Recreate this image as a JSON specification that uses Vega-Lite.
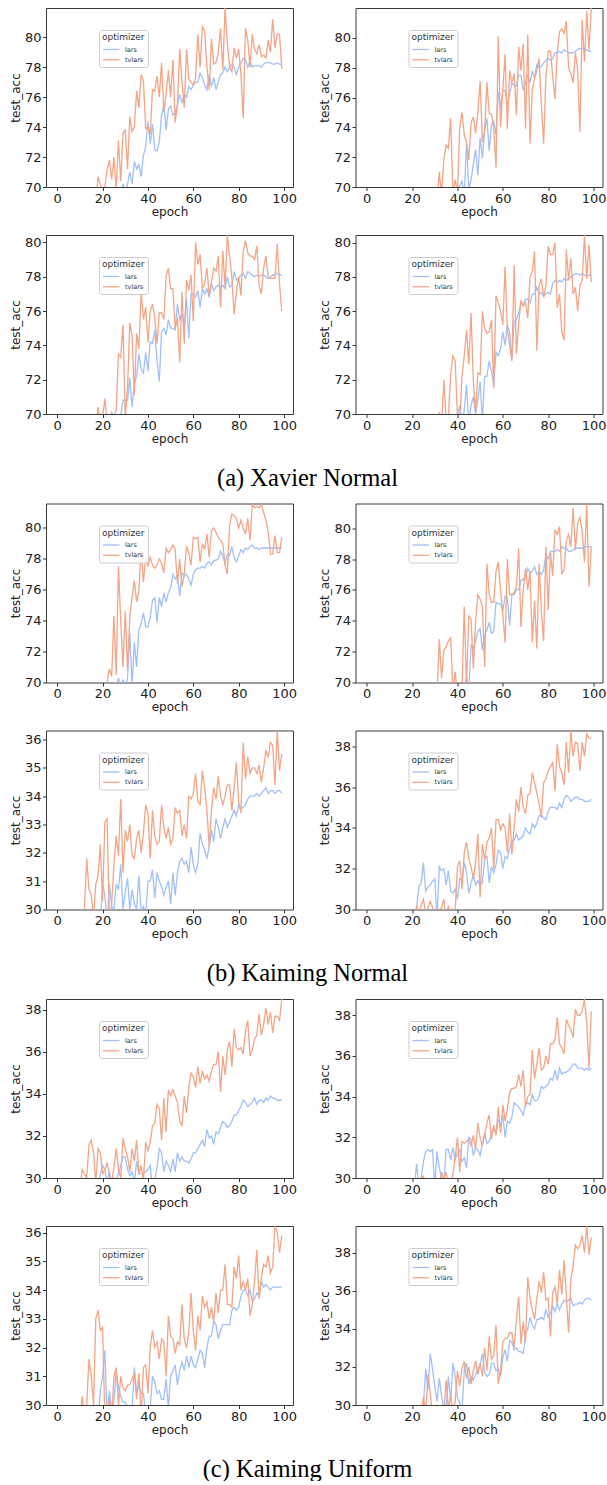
{
"$schema":"https://vega.github.io/schema/vega-lite/v6.json",
"background":"white",
"padding":{"left":8,"top":7,"right":2,"bottom":0},
"datasets":{
"p1":[{"e":17,"lars":null,"tvlars":69.0},{"e":18,"lars":null,"tvlars":70.7},{"e":19,"lars":null,"tvlars":70.2},{"e":20,"lars":null,"tvlars":69.5},{"e":21,"lars":null,"tvlars":70.0},{"e":22,"lars":null,"tvlars":71.2},{"e":23,"lars":null,"tvlars":71.8},{"e":24,"lars":null,"tvlars":70.5},{"e":25,"lars":null,"tvlars":72.0},{"e":26,"lars":null,"tvlars":69.8},{"e":27,"lars":null,"tvlars":73.1},{"e":28,"lars":69.0,"tvlars":70.4},{"e":29,"lars":70.2,"tvlars":73.6},{"e":30,"lars":69.5,"tvlars":73.8},{"e":31,"lars":70.2,"tvlars":71.2},{"e":32,"lars":71.0,"tvlars":74.7},{"e":33,"lars":70.2,"tvlars":73.7},{"e":34,"lars":71.7,"tvlars":74.0},{"e":35,"lars":71.2,"tvlars":76.4},{"e":36,"lars":71.5,"tvlars":75.3},{"e":37,"lars":70.7,"tvlars":77.5},{"e":38,"lars":72.1,"tvlars":77.1},{"e":39,"lars":72.7,"tvlars":73.9},{"e":40,"lars":74.4,"tvlars":74.0},{"e":41,"lars":72.9,"tvlars":73.5},{"e":42,"lars":74.2,"tvlars":76.5},{"e":43,"lars":72.5,"tvlars":76.4},{"e":44,"lars":72.4,"tvlars":77.4},{"e":45,"lars":73.0,"tvlars":76.0},{"e":46,"lars":74.8,"tvlars":78.3},{"e":47,"lars":75.5,"tvlars":75.0},{"e":48,"lars":73.8,"tvlars":76.2},{"e":49,"lars":75.2,"tvlars":77.8},{"e":50,"lars":75.4,"tvlars":76.0},{"e":51,"lars":74.8,"tvlars":78.5},{"e":52,"lars":75.0,"tvlars":74.3},{"e":53,"lars":75.5,"tvlars":75.5},{"e":54,"lars":76.2,"tvlars":79.2},{"e":55,"lars":75.6,"tvlars":77.0},{"e":56,"lars":76.2,"tvlars":75.3},{"e":57,"lars":76.0,"tvlars":79.2},{"e":58,"lars":76.7,"tvlars":77.2},{"e":59,"lars":76.5,"tvlars":77.0},{"e":60,"lars":76.8,"tvlars":76.8},{"e":61,"lars":77.0,"tvlars":77.3},{"e":62,"lars":77.0,"tvlars":80.2},{"e":63,"lars":77.6,"tvlars":78.0},{"e":64,"lars":77.3,"tvlars":80.7},{"e":65,"lars":76.8,"tvlars":80.4},{"e":66,"lars":76.5,"tvlars":78.0},{"e":67,"lars":77.5,"tvlars":76.5},{"e":68,"lars":76.7,"tvlars":79.9},{"e":69,"lars":77.3,"tvlars":78.2},{"e":70,"lars":76.5,"tvlars":78.3},{"e":71,"lars":77.0,"tvlars":79.0},{"e":72,"lars":77.5,"tvlars":80.6},{"e":73,"lars":77.6,"tvlars":77.8},{"e":74,"lars":78.0,"tvlars":81.95},{"e":75,"lars":77.7,"tvlars":79.6},{"e":76,"lars":78.0,"tvlars":78.0},{"e":77,"lars":78.2,"tvlars":77.7},{"e":78,"lars":78.0,"tvlars":79.3},{"e":79,"lars":77.5,"tvlars":78.6},{"e":80,"lars":78.0,"tvlars":79.2},{"e":81,"lars":78.3,"tvlars":77.5},{"e":82,"lars":78.6,"tvlars":74.6},{"e":83,"lars":78.5,"tvlars":80.6},{"e":84,"lars":78.0,"tvlars":79.8},{"e":85,"lars":78.4,"tvlars":78.0},{"e":86,"lars":78.0,"tvlars":80.2},{"e":87,"lars":78.1,"tvlars":79.2},{"e":88,"lars":78.1,"tvlars":78.9},{"e":89,"lars":78.1,"tvlars":79.5},{"e":90,"lars":78.0,"tvlars":78.7},{"e":91,"lars":78.2,"tvlars":78.8},{"e":92,"lars":78.3,"tvlars":78.6},{"e":93,"lars":78.3,"tvlars":79.8},{"e":94,"lars":78.3,"tvlars":79.0},{"e":95,"lars":78.2,"tvlars":81.2},{"e":96,"lars":78.2,"tvlars":79.3},{"e":97,"lars":78.3,"tvlars":80.2},{"e":98,"lars":78.2,"tvlars":80.2},{"e":99,"lars":78.2,"tvlars":77.9}],
"p2":[{"e":31,"lars":null,"tvlars":69.0},{"e":32,"lars":null,"tvlars":71.0},{"e":33,"lars":null,"tvlars":69.5},{"e":34,"lars":null,"tvlars":71.8},{"e":35,"lars":null,"tvlars":72.8},{"e":36,"lars":null,"tvlars":72.6},{"e":37,"lars":null,"tvlars":74.6},{"e":38,"lars":null,"tvlars":69.5},{"e":39,"lars":null,"tvlars":70.5},{"e":40,"lars":69.8,"tvlars":69.6},{"e":41,"lars":70.1,"tvlars":74.0},{"e":42,"lars":70.4,"tvlars":75.0},{"e":43,"lars":69.5,"tvlars":73.5},{"e":44,"lars":72.9,"tvlars":73.0},{"e":45,"lars":69.9,"tvlars":71.8},{"e":46,"lars":70.5,"tvlars":74.3},{"e":47,"lars":71.5,"tvlars":74.7},{"e":48,"lars":72.5,"tvlars":73.6},{"e":49,"lars":70.8,"tvlars":75.0},{"e":50,"lars":73.3,"tvlars":77.1},{"e":51,"lars":71.9,"tvlars":73.0},{"e":52,"lars":73.8,"tvlars":73.8},{"e":53,"lars":74.6,"tvlars":77.0},{"e":54,"lars":72.4,"tvlars":74.9},{"e":55,"lars":74.2,"tvlars":74.9},{"e":56,"lars":74.4,"tvlars":74.0},{"e":57,"lars":73.5,"tvlars":71.3},{"e":58,"lars":76.4,"tvlars":80.1},{"e":59,"lars":75.2,"tvlars":74.0},{"e":60,"lars":76.5,"tvlars":76.5},{"e":61,"lars":76.5,"tvlars":78.9},{"e":62,"lars":75.5,"tvlars":73.9},{"e":63,"lars":76.2,"tvlars":77.8},{"e":64,"lars":77.0,"tvlars":77.0},{"e":65,"lars":76.8,"tvlars":77.6},{"e":66,"lars":76.8,"tvlars":74.8},{"e":67,"lars":77.5,"tvlars":79.4},{"e":68,"lars":77.5,"tvlars":77.8},{"e":69,"lars":76.5,"tvlars":79.6},{"e":70,"lars":77.0,"tvlars":73.9},{"e":71,"lars":77.5,"tvlars":80.2},{"e":72,"lars":77.0,"tvlars":72.9},{"e":73,"lars":77.8,"tvlars":76.5},{"e":74,"lars":77.3,"tvlars":77.3},{"e":75,"lars":78.2,"tvlars":77.8},{"e":76,"lars":78.0,"tvlars":78.6},{"e":77,"lars":78.1,"tvlars":75.5},{"e":78,"lars":78.3,"tvlars":72.9},{"e":79,"lars":78.5,"tvlars":77.4},{"e":80,"lars":78.6,"tvlars":79.1},{"e":81,"lars":78.5,"tvlars":79.1},{"e":82,"lars":78.6,"tvlars":77.4},{"e":83,"lars":79.0,"tvlars":75.9},{"e":84,"lars":79.0,"tvlars":79.0},{"e":85,"lars":79.1,"tvlars":80.4},{"e":86,"lars":79.0,"tvlars":80.6},{"e":87,"lars":79.2,"tvlars":80.3},{"e":88,"lars":79.1,"tvlars":81.1},{"e":89,"lars":79.0,"tvlars":78.0},{"e":90,"lars":79.0,"tvlars":77.6},{"e":91,"lars":79.0,"tvlars":77.0},{"e":92,"lars":79.1,"tvlars":79.0},{"e":93,"lars":79.2,"tvlars":77.9},{"e":94,"lars":79.3,"tvlars":73.7},{"e":95,"lars":79.3,"tvlars":81.2},{"e":96,"lars":79.2,"tvlars":78.4},{"e":97,"lars":79.2,"tvlars":81.8},{"e":98,"lars":79.1,"tvlars":79.2},{"e":99,"lars":79.1,"tvlars":82.0}],
"p3":[{"e":17,"lars":null,"tvlars":69.0},{"e":18,"lars":null,"tvlars":70.4},{"e":19,"lars":null,"tvlars":69.5},{"e":20,"lars":null,"tvlars":69.8},{"e":21,"lars":null,"tvlars":70.9},{"e":22,"lars":null,"tvlars":69.5},{"e":23,"lars":69.5,"tvlars":69.6},{"e":24,"lars":70.1,"tvlars":69.4},{"e":25,"lars":69.8,"tvlars":69.9},{"e":26,"lars":69.6,"tvlars":70.2},{"e":27,"lars":69.8,"tvlars":73.5},{"e":28,"lars":69.9,"tvlars":73.3},{"e":29,"lars":70.8,"tvlars":75.2},{"e":30,"lars":70.8,"tvlars":69.8},{"e":31,"lars":70.8,"tvlars":71.5},{"e":32,"lars":72.1,"tvlars":75.3},{"e":33,"lars":70.4,"tvlars":74.6},{"e":34,"lars":71.8,"tvlars":71.1},{"e":35,"lars":72.2,"tvlars":74.7},{"e":36,"lars":73.5,"tvlars":73.8},{"e":37,"lars":72.6,"tvlars":77.1},{"e":38,"lars":72.4,"tvlars":75.5},{"e":39,"lars":73.6,"tvlars":76.2},{"e":40,"lars":72.5,"tvlars":74.2},{"e":41,"lars":74.2,"tvlars":76.0},{"e":42,"lars":74.1,"tvlars":76.4},{"e":43,"lars":74.9,"tvlars":75.6},{"e":44,"lars":73.1,"tvlars":74.1},{"e":45,"lars":71.9,"tvlars":75.9},{"e":46,"lars":74.8,"tvlars":75.9},{"e":47,"lars":75.0,"tvlars":75.5},{"e":48,"lars":74.6,"tvlars":78.0},{"e":49,"lars":75.5,"tvlars":78.5},{"e":50,"lars":75.0,"tvlars":77.3},{"e":51,"lars":75.0,"tvlars":77.3},{"e":52,"lars":74.9,"tvlars":75.0},{"e":53,"lars":76.4,"tvlars":75.6},{"e":54,"lars":75.5,"tvlars":73.0},{"e":55,"lars":75.8,"tvlars":77.1},{"e":56,"lars":75.1,"tvlars":74.1},{"e":57,"lars":76.7,"tvlars":77.8},{"e":58,"lars":74.4,"tvlars":77.2},{"e":59,"lars":77.0,"tvlars":78.1},{"e":60,"lars":77.0,"tvlars":75.4},{"e":61,"lars":76.8,"tvlars":80.0},{"e":62,"lars":77.2,"tvlars":78.7},{"e":63,"lars":76.2,"tvlars":79.3},{"e":64,"lars":77.3,"tvlars":77.3},{"e":65,"lars":77.0,"tvlars":77.6},{"e":66,"lars":77.3,"tvlars":78.5},{"e":67,"lars":76.8,"tvlars":76.9},{"e":68,"lars":77.6,"tvlars":77.7},{"e":69,"lars":77.2,"tvlars":78.5},{"e":70,"lars":77.4,"tvlars":78.3},{"e":71,"lars":77.5,"tvlars":79.2},{"e":72,"lars":77.4,"tvlars":76.2},{"e":73,"lars":77.5,"tvlars":79.5},{"e":74,"lars":77.3,"tvlars":77.4},{"e":75,"lars":78.0,"tvlars":80.43},{"e":76,"lars":77.4,"tvlars":79.2},{"e":77,"lars":77.5,"tvlars":77.9},{"e":78,"lars":78.3,"tvlars":75.8},{"e":79,"lars":77.8,"tvlars":77.1},{"e":80,"lars":77.9,"tvlars":78.0},{"e":81,"lars":78.1,"tvlars":76.9},{"e":82,"lars":78.2,"tvlars":79.5},{"e":83,"lars":77.9,"tvlars":80.1},{"e":84,"lars":78.3,"tvlars":79.4},{"e":85,"lars":78.2,"tvlars":79.2},{"e":86,"lars":78.1,"tvlars":79.2},{"e":87,"lars":78.0,"tvlars":79.0},{"e":88,"lars":78.1,"tvlars":79.8},{"e":89,"lars":78.0,"tvlars":77.5},{"e":90,"lars":78.1,"tvlars":77.0},{"e":91,"lars":78.1,"tvlars":78.5},{"e":92,"lars":78.0,"tvlars":79.2},{"e":93,"lars":77.9,"tvlars":78.0},{"e":94,"lars":78.0,"tvlars":77.9},{"e":95,"lars":78.1,"tvlars":77.9},{"e":96,"lars":78.1,"tvlars":77.9},{"e":97,"lars":78.2,"tvlars":79.9},{"e":98,"lars":78.1,"tvlars":77.6},{"e":99,"lars":78.1,"tvlars":76.0}],
"p4":[{"e":31,"lars":null,"tvlars":69.0},{"e":32,"lars":null,"tvlars":70.1},{"e":33,"lars":null,"tvlars":69.3},{"e":34,"lars":null,"tvlars":72.0},{"e":35,"lars":null,"tvlars":69.6},{"e":36,"lars":null,"tvlars":69.9},{"e":37,"lars":null,"tvlars":72.3},{"e":38,"lars":null,"tvlars":73.4},{"e":39,"lars":null,"tvlars":73.1},{"e":40,"lars":69.8,"tvlars":69.8},{"e":41,"lars":70.5,"tvlars":69.6},{"e":42,"lars":69.5,"tvlars":72.2},{"e":43,"lars":70.2,"tvlars":73.4},{"e":44,"lars":71.7,"tvlars":74.9},{"e":45,"lars":69.5,"tvlars":72.9},{"e":46,"lars":70.5,"tvlars":75.9},{"e":47,"lars":71.0,"tvlars":71.9},{"e":48,"lars":70.0,"tvlars":70.1},{"e":49,"lars":70.8,"tvlars":72.4},{"e":50,"lars":71.9,"tvlars":72.3},{"e":51,"lars":69.6,"tvlars":76.0},{"e":52,"lars":72.2,"tvlars":75.0},{"e":53,"lars":72.2,"tvlars":74.7},{"e":54,"lars":73.1,"tvlars":74.8},{"e":55,"lars":72.5,"tvlars":75.5},{"e":56,"lars":71.7,"tvlars":71.5},{"e":57,"lars":73.6,"tvlars":76.9},{"e":58,"lars":73.4,"tvlars":76.5},{"e":59,"lars":73.8,"tvlars":76.0},{"e":60,"lars":74.8,"tvlars":75.2},{"e":61,"lars":74.0,"tvlars":78.6},{"e":62,"lars":75.2,"tvlars":75.0},{"e":63,"lars":74.8,"tvlars":74.0},{"e":64,"lars":73.2,"tvlars":73.1},{"e":65,"lars":75.4,"tvlars":78.7},{"e":66,"lars":75.5,"tvlars":73.5},{"e":67,"lars":75.9,"tvlars":75.3},{"e":68,"lars":76.5,"tvlars":76.6},{"e":69,"lars":76.4,"tvlars":76.3},{"e":70,"lars":76.7,"tvlars":76.5},{"e":71,"lars":76.7,"tvlars":75.6},{"e":72,"lars":76.5,"tvlars":78.0},{"e":73,"lars":77.0,"tvlars":78.3},{"e":74,"lars":77.0,"tvlars":79.5},{"e":75,"lars":77.4,"tvlars":73.7},{"e":76,"lars":77.0,"tvlars":77.5},{"e":77,"lars":77.1,"tvlars":77.9},{"e":78,"lars":76.9,"tvlars":76.8},{"e":79,"lars":77.0,"tvlars":77.5},{"e":80,"lars":77.1,"tvlars":79.8},{"e":81,"lars":77.0,"tvlars":79.3},{"e":82,"lars":77.6,"tvlars":79.3},{"e":83,"lars":77.8,"tvlars":80.0},{"e":84,"lars":77.7,"tvlars":76.2},{"e":85,"lars":77.8,"tvlars":77.0},{"e":86,"lars":77.7,"tvlars":74.8},{"e":87,"lars":77.9,"tvlars":74.3},{"e":88,"lars":77.8,"tvlars":79.6},{"e":89,"lars":77.9,"tvlars":77.8},{"e":90,"lars":78.0,"tvlars":79.1},{"e":91,"lars":78.1,"tvlars":77.0},{"e":92,"lars":78.2,"tvlars":77.4},{"e":93,"lars":78.2,"tvlars":76.0},{"e":94,"lars":78.1,"tvlars":77.5},{"e":95,"lars":78.2,"tvlars":77.8},{"e":96,"lars":78.1,"tvlars":80.45},{"e":97,"lars":78.1,"tvlars":77.9},{"e":98,"lars":78.1,"tvlars":79.9},{"e":99,"lars":78.1,"tvlars":77.7}],
"p5":[{"e":21,"lars":null,"tvlars":69.5},{"e":22,"lars":null,"tvlars":70.0},{"e":23,"lars":null,"tvlars":70.9},{"e":24,"lars":null,"tvlars":70.4},{"e":25,"lars":null,"tvlars":74.3},{"e":26,"lars":69.7,"tvlars":70.5},{"e":27,"lars":70.3,"tvlars":77.5},{"e":28,"lars":69.6,"tvlars":74.0},{"e":29,"lars":70.2,"tvlars":71.0},{"e":30,"lars":69.5,"tvlars":74.6},{"e":31,"lars":70.3,"tvlars":70.8},{"e":32,"lars":73.2,"tvlars":74.3},{"e":33,"lars":69.8,"tvlars":75.5},{"e":34,"lars":72.6,"tvlars":76.6},{"e":35,"lars":71.0,"tvlars":75.2},{"e":36,"lars":73.4,"tvlars":75.9},{"e":37,"lars":73.8,"tvlars":78.7},{"e":38,"lars":74.5,"tvlars":76.5},{"e":39,"lars":73.6,"tvlars":78.1},{"e":40,"lars":73.6,"tvlars":77.5},{"e":41,"lars":74.2,"tvlars":78.1},{"e":42,"lars":75.3,"tvlars":77.6},{"e":43,"lars":75.5,"tvlars":77.4},{"e":44,"lars":73.9,"tvlars":77.6},{"e":45,"lars":75.5,"tvlars":78.0},{"e":46,"lars":74.9,"tvlars":77.7},{"e":47,"lars":75.8,"tvlars":77.1},{"e":48,"lars":75.2,"tvlars":78.7},{"e":49,"lars":75.8,"tvlars":78.4},{"e":50,"lars":76.1,"tvlars":78.6},{"e":51,"lars":77.0,"tvlars":78.9},{"e":52,"lars":76.7,"tvlars":78.6},{"e":53,"lars":76.9,"tvlars":76.4},{"e":54,"lars":75.6,"tvlars":78.0},{"e":55,"lars":77.1,"tvlars":76.2},{"e":56,"lars":76.9,"tvlars":77.0},{"e":57,"lars":77.0,"tvlars":78.8},{"e":58,"lars":76.7,"tvlars":78.4},{"e":59,"lars":76.3,"tvlars":77.6},{"e":60,"lars":77.0,"tvlars":79.4},{"e":61,"lars":77.3,"tvlars":79.3},{"e":62,"lars":77.4,"tvlars":79.4},{"e":63,"lars":77.4,"tvlars":77.8},{"e":64,"lars":77.5,"tvlars":79.0},{"e":65,"lars":77.4,"tvlars":78.6},{"e":66,"lars":77.7,"tvlars":79.6},{"e":67,"lars":77.8,"tvlars":78.1},{"e":68,"lars":77.6,"tvlars":79.8},{"e":69,"lars":77.9,"tvlars":80.0},{"e":70,"lars":77.9,"tvlars":79.7},{"e":71,"lars":78.0,"tvlars":79.4},{"e":72,"lars":78.5,"tvlars":79.2},{"e":73,"lars":78.2,"tvlars":79.0},{"e":74,"lars":77.7,"tvlars":77.6},{"e":75,"lars":78.3,"tvlars":77.0},{"e":76,"lars":78.2,"tvlars":80.2},{"e":77,"lars":78.8,"tvlars":80.9},{"e":78,"lars":78.1,"tvlars":80.8},{"e":79,"lars":77.8,"tvlars":80.6},{"e":80,"lars":78.2,"tvlars":80.0},{"e":81,"lars":78.6,"tvlars":80.5},{"e":82,"lars":78.4,"tvlars":80.0},{"e":83,"lars":78.7,"tvlars":79.6},{"e":84,"lars":78.6,"tvlars":80.6},{"e":85,"lars":78.8,"tvlars":79.2},{"e":86,"lars":78.9,"tvlars":81.58},{"e":87,"lars":78.7,"tvlars":81.3},{"e":88,"lars":78.7,"tvlars":81.4},{"e":89,"lars":78.6,"tvlars":81.3},{"e":90,"lars":78.7,"tvlars":81.5},{"e":91,"lars":78.7,"tvlars":81.0},{"e":92,"lars":78.7,"tvlars":80.5},{"e":93,"lars":78.7,"tvlars":79.8},{"e":94,"lars":78.7,"tvlars":78.3},{"e":95,"lars":78.7,"tvlars":78.3},{"e":96,"lars":78.7,"tvlars":79.5},{"e":97,"lars":78.7,"tvlars":78.4},{"e":98,"lars":78.7,"tvlars":78.4},{"e":99,"lars":78.7,"tvlars":79.4}],
"p6":[{"e":31,"lars":null,"tvlars":69.3},{"e":32,"lars":null,"tvlars":72.8},{"e":33,"lars":null,"tvlars":70.3},{"e":34,"lars":null,"tvlars":72.1},{"e":35,"lars":null,"tvlars":72.3},{"e":36,"lars":null,"tvlars":72.7},{"e":37,"lars":null,"tvlars":72.9},{"e":38,"lars":null,"tvlars":69.5},{"e":39,"lars":null,"tvlars":70.7},{"e":40,"lars":null,"tvlars":69.2},{"e":41,"lars":null,"tvlars":69.8},{"e":42,"lars":null,"tvlars":69.5},{"e":43,"lars":69.5,"tvlars":74.9},{"e":44,"lars":70.4,"tvlars":69.8},{"e":45,"lars":69.5,"tvlars":74.3},{"e":46,"lars":72.4,"tvlars":74.1},{"e":47,"lars":72.2,"tvlars":70.9},{"e":48,"lars":72.7,"tvlars":74.0},{"e":49,"lars":73.3,"tvlars":75.7},{"e":50,"lars":73.5,"tvlars":75.4},{"e":51,"lars":72.1,"tvlars":74.9},{"e":52,"lars":73.1,"tvlars":71.0},{"e":53,"lars":73.4,"tvlars":77.7},{"e":54,"lars":73.9,"tvlars":75.7},{"e":55,"lars":73.2,"tvlars":75.2},{"e":56,"lars":73.3,"tvlars":75.2},{"e":57,"lars":75.2,"tvlars":77.2},{"e":58,"lars":75.1,"tvlars":77.8},{"e":59,"lars":75.1,"tvlars":76.0},{"e":60,"lars":74.6,"tvlars":74.4},{"e":61,"lars":75.6,"tvlars":72.6},{"e":62,"lars":75.5,"tvlars":78.0},{"e":63,"lars":73.7,"tvlars":75.7},{"e":64,"lars":75.7,"tvlars":75.7},{"e":65,"lars":75.7,"tvlars":75.8},{"e":66,"lars":76.0,"tvlars":76.2},{"e":67,"lars":76.0,"tvlars":78.7},{"e":68,"lars":76.6,"tvlars":73.6},{"e":69,"lars":76.7,"tvlars":76.0},{"e":70,"lars":76.8,"tvlars":77.4},{"e":71,"lars":77.4,"tvlars":76.0},{"e":72,"lars":77.1,"tvlars":77.2},{"e":73,"lars":77.2,"tvlars":72.6},{"e":74,"lars":77.5,"tvlars":75.3},{"e":75,"lars":77.0,"tvlars":72.2},{"e":76,"lars":77.2,"tvlars":77.7},{"e":77,"lars":77.0,"tvlars":74.6},{"e":78,"lars":77.3,"tvlars":72.7},{"e":79,"lars":78.3,"tvlars":78.8},{"e":80,"lars":78.0,"tvlars":74.7},{"e":81,"lars":78.5,"tvlars":78.4},{"e":82,"lars":78.5,"tvlars":76.9},{"e":83,"lars":78.5,"tvlars":79.9},{"e":84,"lars":78.6,"tvlars":79.6},{"e":85,"lars":78.5,"tvlars":80.1},{"e":86,"lars":78.8,"tvlars":77.0},{"e":87,"lars":78.7,"tvlars":77.3},{"e":88,"lars":78.7,"tvlars":79.2},{"e":89,"lars":78.5,"tvlars":79.6},{"e":90,"lars":78.5,"tvlars":78.8},{"e":91,"lars":78.6,"tvlars":81.3},{"e":92,"lars":78.7,"tvlars":78.6},{"e":93,"lars":78.7,"tvlars":80.3},{"e":94,"lars":78.7,"tvlars":80.7},{"e":95,"lars":78.7,"tvlars":79.8},{"e":96,"lars":78.8,"tvlars":77.8},{"e":97,"lars":78.8,"tvlars":81.6},{"e":98,"lars":78.8,"tvlars":76.2},{"e":99,"lars":78.8,"tvlars":78.8}],
"p7":[{"e":11,"lars":null,"tvlars":29.5},{"e":12,"lars":null,"tvlars":30.0},{"e":13,"lars":null,"tvlars":31.8},{"e":14,"lars":null,"tvlars":30.7},{"e":15,"lars":null,"tvlars":30.5},{"e":16,"lars":null,"tvlars":29.7},{"e":17,"lars":null,"tvlars":30.9},{"e":18,"lars":null,"tvlars":31.2},{"e":19,"lars":29.5,"tvlars":32.3},{"e":20,"lars":30.9,"tvlars":30.3},{"e":21,"lars":30.5,"tvlars":33.1},{"e":22,"lars":29.5,"tvlars":33.2},{"e":23,"lars":30.9,"tvlars":29.5},{"e":24,"lars":30.1,"tvlars":30.2},{"e":25,"lars":30.0,"tvlars":31.6},{"e":26,"lars":30.9,"tvlars":32.6},{"e":27,"lars":30.7,"tvlars":31.9},{"e":28,"lars":31.6,"tvlars":33.9},{"e":29,"lars":30.0,"tvlars":31.3},{"e":30,"lars":30.6,"tvlars":32.8},{"e":31,"lars":31.1,"tvlars":32.4},{"e":32,"lars":30.0,"tvlars":33.0},{"e":33,"lars":30.7,"tvlars":31.9},{"e":34,"lars":30.2,"tvlars":31.8},{"e":35,"lars":30.0,"tvlars":32.5},{"e":36,"lars":31.2,"tvlars":32.8},{"e":37,"lars":29.9,"tvlars":32.0},{"e":38,"lars":30.1,"tvlars":32.7},{"e":39,"lars":29.8,"tvlars":33.7},{"e":40,"lars":31.0,"tvlars":33.4},{"e":41,"lars":31.0,"tvlars":31.8},{"e":42,"lars":31.4,"tvlars":33.5},{"e":43,"lars":30.4,"tvlars":32.6},{"e":44,"lars":31.3,"tvlars":32.3},{"e":45,"lars":31.0,"tvlars":32.4},{"e":46,"lars":30.8,"tvlars":33.7},{"e":47,"lars":30.5,"tvlars":32.9},{"e":48,"lars":30.8,"tvlars":32.5},{"e":49,"lars":31.0,"tvlars":32.9},{"e":50,"lars":30.2,"tvlars":32.3},{"e":51,"lars":31.3,"tvlars":32.5},{"e":52,"lars":30.5,"tvlars":33.6},{"e":53,"lars":31.3,"tvlars":33.4},{"e":54,"lars":31.7,"tvlars":33.5},{"e":55,"lars":31.8,"tvlars":32.6},{"e":56,"lars":31.6,"tvlars":33.0},{"e":57,"lars":31.7,"tvlars":32.5},{"e":58,"lars":31.3,"tvlars":34.0},{"e":59,"lars":32.2,"tvlars":33.9},{"e":60,"lars":31.6,"tvlars":34.1},{"e":61,"lars":31.3,"tvlars":34.8},{"e":62,"lars":31.6,"tvlars":33.8},{"e":63,"lars":32.7,"tvlars":33.7},{"e":64,"lars":32.3,"tvlars":34.9},{"e":65,"lars":32.1,"tvlars":34.3},{"e":66,"lars":31.8,"tvlars":33.5},{"e":67,"lars":32.2,"tvlars":32.2},{"e":68,"lars":32.8,"tvlars":33.5},{"e":69,"lars":32.4,"tvlars":34.3},{"e":70,"lars":33.2,"tvlars":33.9},{"e":71,"lars":32.9,"tvlars":34.7},{"e":72,"lars":32.5,"tvlars":34.0},{"e":73,"lars":32.9,"tvlars":33.7},{"e":74,"lars":33.2,"tvlars":34.0},{"e":75,"lars":32.9,"tvlars":34.4},{"e":76,"lars":33.1,"tvlars":34.4},{"e":77,"lars":33.3,"tvlars":33.5},{"e":78,"lars":33.5,"tvlars":34.3},{"e":79,"lars":33.3,"tvlars":35.2},{"e":80,"lars":33.7,"tvlars":33.8},{"e":81,"lars":33.6,"tvlars":33.4},{"e":82,"lars":33.6,"tvlars":35.9},{"e":83,"lars":33.7,"tvlars":34.6},{"e":84,"lars":33.9,"tvlars":35.4},{"e":85,"lars":34.0,"tvlars":34.8},{"e":86,"lars":34.0,"tvlars":35.0},{"e":87,"lars":34.0,"tvlars":35.0},{"e":88,"lars":34.1,"tvlars":34.8},{"e":89,"lars":34.0,"tvlars":35.1},{"e":90,"lars":34.1,"tvlars":34.5},{"e":91,"lars":34.2,"tvlars":35.0},{"e":92,"lars":34.3,"tvlars":35.6},{"e":93,"lars":34.1,"tvlars":35.4},{"e":94,"lars":34.2,"tvlars":35.9},{"e":95,"lars":34.2,"tvlars":35.8},{"e":96,"lars":34.1,"tvlars":34.4},{"e":97,"lars":34.2,"tvlars":36.32},{"e":98,"lars":34.2,"tvlars":34.9},{"e":99,"lars":34.1,"tvlars":35.5}],
"p8":[{"e":21,"lars":29.5,"tvlars":29.5},{"e":22,"lars":30.1,"tvlars":30.2},{"e":23,"lars":31.1,"tvlars":29.7},{"e":24,"lars":31.3,"tvlars":30.2},{"e":25,"lars":32.3,"tvlars":30.5},{"e":26,"lars":30.9,"tvlars":29.8},{"e":27,"lars":31.1,"tvlars":30.1},{"e":28,"lars":31.2,"tvlars":30.4},{"e":29,"lars":31.4,"tvlars":30.1},{"e":30,"lars":31.5,"tvlars":29.5},{"e":31,"lars":29.6,"tvlars":29.6},{"e":32,"lars":32.1,"tvlars":30.0},{"e":33,"lars":31.9,"tvlars":30.1},{"e":34,"lars":32.0,"tvlars":30.5},{"e":35,"lars":31.2,"tvlars":29.6},{"e":36,"lars":31.9,"tvlars":30.2},{"e":37,"lars":30.9,"tvlars":29.6},{"e":38,"lars":30.8,"tvlars":30.0},{"e":39,"lars":31.0,"tvlars":29.9},{"e":40,"lars":30.5,"tvlars":32.1},{"e":41,"lars":31.5,"tvlars":32.4},{"e":42,"lars":31.4,"tvlars":31.0},{"e":43,"lars":32.3,"tvlars":32.8},{"e":44,"lars":31.8,"tvlars":33.3},{"e":45,"lars":30.8,"tvlars":32.5},{"e":46,"lars":31.3,"tvlars":32.1},{"e":47,"lars":31.7,"tvlars":31.5},{"e":48,"lars":31.2,"tvlars":32.3},{"e":49,"lars":31.4,"tvlars":33.7},{"e":50,"lars":31.2,"tvlars":30.6},{"e":51,"lars":31.3,"tvlars":33.2},{"e":52,"lars":32.5,"tvlars":32.4},{"e":53,"lars":32.6,"tvlars":33.3},{"e":54,"lars":31.3,"tvlars":33.5},{"e":55,"lars":32.1,"tvlars":34.0},{"e":56,"lars":31.8,"tvlars":32.0},{"e":57,"lars":32.2,"tvlars":34.4},{"e":58,"lars":32.9,"tvlars":34.4},{"e":59,"lars":32.8,"tvlars":33.9},{"e":60,"lars":32.0,"tvlars":34.2},{"e":61,"lars":32.6,"tvlars":34.0},{"e":62,"lars":32.5,"tvlars":32.8},{"e":63,"lars":33.0,"tvlars":34.7},{"e":64,"lars":33.3,"tvlars":32.7},{"e":65,"lars":33.4,"tvlars":34.0},{"e":66,"lars":33.7,"tvlars":35.4},{"e":67,"lars":33.4,"tvlars":34.8},{"e":68,"lars":33.5,"tvlars":36.0},{"e":69,"lars":33.6,"tvlars":35.0},{"e":70,"lars":34.0,"tvlars":34.7},{"e":71,"lars":33.8,"tvlars":35.6},{"e":72,"lars":33.7,"tvlars":35.7},{"e":73,"lars":34.2,"tvlars":36.7},{"e":74,"lars":34.0,"tvlars":36.2},{"e":75,"lars":34.2,"tvlars":35.7},{"e":76,"lars":34.6,"tvlars":35.2},{"e":77,"lars":34.6,"tvlars":34.5},{"e":78,"lars":34.5,"tvlars":36.2},{"e":79,"lars":34.4,"tvlars":36.4},{"e":80,"lars":34.8,"tvlars":36.8},{"e":81,"lars":35.0,"tvlars":37.0},{"e":82,"lars":35.0,"tvlars":37.2},{"e":83,"lars":35.0,"tvlars":35.8},{"e":84,"lars":34.9,"tvlars":38.1},{"e":85,"lars":35.2,"tvlars":37.0},{"e":86,"lars":35.0,"tvlars":36.7},{"e":87,"lars":35.4,"tvlars":36.1},{"e":88,"lars":35.6,"tvlars":38.2},{"e":89,"lars":35.5,"tvlars":36.7},{"e":90,"lars":35.3,"tvlars":38.77},{"e":91,"lars":35.4,"tvlars":37.5},{"e":92,"lars":35.5,"tvlars":38.2},{"e":93,"lars":35.5,"tvlars":38.1},{"e":94,"lars":35.4,"tvlars":36.8},{"e":95,"lars":35.4,"tvlars":38.2},{"e":96,"lars":35.3,"tvlars":37.5},{"e":97,"lars":35.3,"tvlars":38.6},{"e":98,"lars":35.3,"tvlars":38.4},{"e":99,"lars":35.4,"tvlars":38.4}],
"p9":[{"e":10,"lars":null,"tvlars":29.5},{"e":11,"lars":null,"tvlars":30.4},{"e":12,"lars":null,"tvlars":30.2},{"e":13,"lars":null,"tvlars":30.0},{"e":14,"lars":null,"tvlars":31.6},{"e":15,"lars":null,"tvlars":31.8},{"e":16,"lars":null,"tvlars":31.2},{"e":17,"lars":null,"tvlars":29.8},{"e":18,"lars":29.6,"tvlars":31.4},{"e":19,"lars":30.2,"tvlars":31.2},{"e":20,"lars":30.6,"tvlars":30.2},{"e":21,"lars":30.4,"tvlars":30.4},{"e":22,"lars":29.8,"tvlars":30.7},{"e":23,"lars":30.3,"tvlars":30.2},{"e":24,"lars":29.7,"tvlars":29.8},{"e":25,"lars":30.0,"tvlars":30.5},{"e":26,"lars":29.9,"tvlars":31.4},{"e":27,"lars":30.2,"tvlars":30.4},{"e":28,"lars":30.6,"tvlars":30.0},{"e":29,"lars":31.0,"tvlars":31.9},{"e":30,"lars":31.0,"tvlars":31.4},{"e":31,"lars":30.4,"tvlars":31.0},{"e":32,"lars":30.1,"tvlars":30.3},{"e":33,"lars":30.3,"tvlars":31.4},{"e":34,"lars":29.8,"tvlars":30.8},{"e":35,"lars":30.8,"tvlars":31.8},{"e":36,"lars":30.2,"tvlars":30.2},{"e":37,"lars":30.2,"tvlars":30.6},{"e":38,"lars":30.2,"tvlars":29.9},{"e":39,"lars":30.3,"tvlars":31.7},{"e":40,"lars":30.4,"tvlars":31.3},{"e":41,"lars":30.6,"tvlars":31.7},{"e":42,"lars":29.5,"tvlars":32.5},{"e":43,"lars":29.9,"tvlars":32.6},{"e":44,"lars":30.5,"tvlars":33.5},{"e":45,"lars":31.4,"tvlars":33.3},{"e":46,"lars":31.2,"tvlars":31.8},{"e":47,"lars":30.3,"tvlars":33.8},{"e":48,"lars":30.8,"tvlars":32.2},{"e":49,"lars":30.6,"tvlars":34.2},{"e":50,"lars":30.3,"tvlars":33.9},{"e":51,"lars":30.9,"tvlars":34.2},{"e":52,"lars":30.3,"tvlars":33.9},{"e":53,"lars":31.2,"tvlars":33.6},{"e":54,"lars":30.8,"tvlars":32.7},{"e":55,"lars":31.0,"tvlars":32.5},{"e":56,"lars":30.8,"tvlars":33.9},{"e":57,"lars":30.8,"tvlars":33.1},{"e":58,"lars":30.7,"tvlars":34.3},{"e":59,"lars":30.9,"tvlars":35.0},{"e":60,"lars":31.2,"tvlars":34.8},{"e":61,"lars":31.2,"tvlars":34.3},{"e":62,"lars":31.4,"tvlars":35.3},{"e":63,"lars":31.6,"tvlars":34.5},{"e":64,"lars":31.8,"tvlars":35.1},{"e":65,"lars":31.5,"tvlars":34.7},{"e":66,"lars":32.3,"tvlars":34.9},{"e":67,"lars":31.9,"tvlars":34.6},{"e":68,"lars":32.0,"tvlars":35.1},{"e":69,"lars":31.6,"tvlars":35.4},{"e":70,"lars":32.2,"tvlars":35.4},{"e":71,"lars":32.1,"tvlars":36.0},{"e":72,"lars":32.4,"tvlars":34.1},{"e":73,"lars":32.7,"tvlars":35.8},{"e":74,"lars":32.6,"tvlars":34.9},{"e":75,"lars":32.4,"tvlars":36.1},{"e":76,"lars":32.5,"tvlars":36.5},{"e":77,"lars":32.7,"tvlars":35.3},{"e":78,"lars":33.0,"tvlars":37.1},{"e":79,"lars":33.0,"tvlars":36.2},{"e":80,"lars":33.2,"tvlars":36.1},{"e":81,"lars":33.4,"tvlars":36.2},{"e":82,"lars":33.7,"tvlars":35.9},{"e":83,"lars":33.6,"tvlars":37.0},{"e":84,"lars":33.4,"tvlars":37.5},{"e":85,"lars":33.5,"tvlars":35.8},{"e":86,"lars":33.6,"tvlars":36.1},{"e":87,"lars":33.8,"tvlars":36.6},{"e":88,"lars":33.5,"tvlars":36.8},{"e":89,"lars":33.7,"tvlars":37.8},{"e":90,"lars":33.7,"tvlars":36.8},{"e":91,"lars":33.6,"tvlars":37.3},{"e":92,"lars":33.8,"tvlars":38.1},{"e":93,"lars":33.7,"tvlars":37.3},{"e":94,"lars":33.9,"tvlars":37.9},{"e":95,"lars":33.8,"tvlars":36.9},{"e":96,"lars":33.8,"tvlars":37.7},{"e":97,"lars":33.7,"tvlars":37.7},{"e":98,"lars":33.7,"tvlars":37.5},{"e":99,"lars":33.7,"tvlars":38.52}],
"p10":[{"e":21,"lars":29.5,"tvlars":null},{"e":22,"lars":30.7,"tvlars":null},{"e":23,"lars":29.6,"tvlars":29.5},{"e":24,"lars":30.0,"tvlars":30.0},{"e":25,"lars":30.8,"tvlars":30.1},{"e":26,"lars":31.3,"tvlars":29.5},{"e":27,"lars":31.4,"tvlars":29.7},{"e":28,"lars":31.3,"tvlars":29.5},{"e":29,"lars":31.4,"tvlars":29.4},{"e":30,"lars":29.6,"tvlars":29.5},{"e":31,"lars":31.3,"tvlars":29.5},{"e":32,"lars":30.5,"tvlars":29.6},{"e":33,"lars":30.0,"tvlars":30.3},{"e":34,"lars":29.7,"tvlars":29.9},{"e":35,"lars":31.4,"tvlars":30.3},{"e":36,"lars":31.4,"tvlars":29.7},{"e":37,"lars":30.9,"tvlars":29.5},{"e":38,"lars":31.5,"tvlars":30.2},{"e":39,"lars":30.9,"tvlars":31.0},{"e":40,"lars":31.2,"tvlars":32.0},{"e":41,"lars":31.4,"tvlars":30.3},{"e":42,"lars":30.8,"tvlars":31.8},{"e":43,"lars":31.0,"tvlars":31.7},{"e":44,"lars":30.5,"tvlars":31.8},{"e":45,"lars":32.0,"tvlars":31.9},{"e":46,"lars":31.9,"tvlars":31.6},{"e":47,"lars":31.1,"tvlars":32.1},{"e":48,"lars":31.5,"tvlars":31.4},{"e":49,"lars":31.4,"tvlars":32.7},{"e":50,"lars":31.1,"tvlars":32.0},{"e":51,"lars":31.7,"tvlars":31.6},{"e":52,"lars":32.2,"tvlars":32.1},{"e":53,"lars":31.7,"tvlars":32.7},{"e":54,"lars":31.8,"tvlars":33.1},{"e":55,"lars":32.2,"tvlars":31.9},{"e":56,"lars":32.4,"tvlars":32.6},{"e":57,"lars":32.2,"tvlars":32.1},{"e":58,"lars":32.9,"tvlars":33.5},{"e":59,"lars":32.5,"tvlars":32.2},{"e":60,"lars":33.1,"tvlars":33.6},{"e":61,"lars":32.0,"tvlars":32.8},{"e":62,"lars":32.8,"tvlars":33.4},{"e":63,"lars":32.7,"tvlars":34.2},{"e":64,"lars":33.0,"tvlars":34.4},{"e":65,"lars":33.7,"tvlars":34.4},{"e":66,"lars":33.6,"tvlars":34.5},{"e":67,"lars":33.5,"tvlars":35.1},{"e":68,"lars":33.3,"tvlars":34.5},{"e":69,"lars":33.1,"tvlars":35.3},{"e":70,"lars":33.6,"tvlars":33.5},{"e":71,"lars":33.7,"tvlars":34.0},{"e":72,"lars":33.6,"tvlars":34.1},{"e":73,"lars":34.1,"tvlars":36.3},{"e":74,"lars":33.8,"tvlars":34.9},{"e":75,"lars":33.8,"tvlars":35.6},{"e":76,"lars":34.0,"tvlars":36.4},{"e":77,"lars":34.5,"tvlars":35.3},{"e":78,"lars":34.4,"tvlars":35.4},{"e":79,"lars":34.5,"tvlars":36.0},{"e":80,"lars":34.6,"tvlars":35.6},{"e":81,"lars":34.9,"tvlars":36.6},{"e":82,"lars":34.8,"tvlars":36.6},{"e":83,"lars":35.3,"tvlars":36.8},{"e":84,"lars":34.8,"tvlars":37.9},{"e":85,"lars":35.4,"tvlars":36.6},{"e":86,"lars":35.1,"tvlars":36.4},{"e":87,"lars":35.2,"tvlars":36.1},{"e":88,"lars":35.2,"tvlars":37.8},{"e":89,"lars":35.3,"tvlars":37.5},{"e":90,"lars":35.4,"tvlars":37.3},{"e":91,"lars":35.6,"tvlars":36.9},{"e":92,"lars":35.6,"tvlars":38.3},{"e":93,"lars":35.4,"tvlars":38.0},{"e":94,"lars":35.4,"tvlars":38.0},{"e":95,"lars":35.4,"tvlars":38.2},{"e":96,"lars":35.3,"tvlars":38.8},{"e":97,"lars":35.4,"tvlars":37.6},{"e":98,"lars":35.3,"tvlars":35.4},{"e":99,"lars":35.4,"tvlars":38.2}],
"p11":[{"e":10,"lars":null,"tvlars":29.5},{"e":11,"lars":null,"tvlars":30.3},{"e":12,"lars":null,"tvlars":29.6},{"e":13,"lars":null,"tvlars":30.0},{"e":14,"lars":null,"tvlars":31.6},{"e":15,"lars":null,"tvlars":31.0},{"e":16,"lars":null,"tvlars":30.0},{"e":17,"lars":null,"tvlars":33.0},{"e":18,"lars":29.5,"tvlars":33.3},{"e":19,"lars":30.5,"tvlars":32.6},{"e":20,"lars":31.0,"tvlars":32.7},{"e":21,"lars":31.9,"tvlars":29.5},{"e":22,"lars":29.6,"tvlars":29.7},{"e":23,"lars":30.5,"tvlars":30.2},{"e":24,"lars":29.8,"tvlars":29.6},{"e":25,"lars":30.1,"tvlars":31.0},{"e":26,"lars":31.2,"tvlars":31.3},{"e":27,"lars":30.6,"tvlars":30.0},{"e":28,"lars":30.3,"tvlars":31.0},{"e":29,"lars":30.1,"tvlars":30.6},{"e":30,"lars":30.1,"tvlars":30.5},{"e":31,"lars":29.9,"tvlars":30.7},{"e":32,"lars":29.6,"tvlars":30.7},{"e":33,"lars":29.9,"tvlars":30.9},{"e":34,"lars":31.3,"tvlars":31.1},{"e":35,"lars":30.4,"tvlars":30.2},{"e":36,"lars":30.7,"tvlars":31.1},{"e":37,"lars":30.4,"tvlars":29.6},{"e":38,"lars":30.4,"tvlars":31.3},{"e":39,"lars":29.7,"tvlars":31.4},{"e":40,"lars":29.5,"tvlars":30.4},{"e":41,"lars":29.9,"tvlars":32.0},{"e":42,"lars":31.0,"tvlars":32.6},{"e":43,"lars":30.8,"tvlars":32.0},{"e":44,"lars":30.4,"tvlars":32.2},{"e":45,"lars":30.5,"tvlars":31.6},{"e":46,"lars":30.2,"tvlars":32.3},{"e":47,"lars":30.2,"tvlars":32.2},{"e":48,"lars":30.9,"tvlars":31.0},{"e":49,"lars":29.9,"tvlars":33.1},{"e":50,"lars":31.0,"tvlars":32.4},{"e":51,"lars":31.2,"tvlars":32.3},{"e":52,"lars":31.4,"tvlars":31.8},{"e":53,"lars":30.7,"tvlars":32.2},{"e":54,"lars":31.2,"tvlars":32.1},{"e":55,"lars":31.5,"tvlars":33.5},{"e":56,"lars":31.2,"tvlars":32.3},{"e":57,"lars":31.7,"tvlars":32.0},{"e":58,"lars":31.3,"tvlars":32.5},{"e":59,"lars":31.7,"tvlars":33.9},{"e":60,"lars":31.4,"tvlars":32.6},{"e":61,"lars":31.3,"tvlars":31.9},{"e":62,"lars":31.6,"tvlars":33.1},{"e":63,"lars":31.9,"tvlars":32.6},{"e":64,"lars":31.8,"tvlars":33.8},{"e":65,"lars":31.3,"tvlars":33.4},{"e":66,"lars":32.0,"tvlars":33.6},{"e":67,"lars":32.4,"tvlars":33.0},{"e":68,"lars":32.4,"tvlars":33.4},{"e":69,"lars":32.9,"tvlars":32.9},{"e":70,"lars":32.8,"tvlars":33.9},{"e":71,"lars":32.3,"tvlars":33.2},{"e":72,"lars":32.6,"tvlars":34.0},{"e":73,"lars":32.8,"tvlars":34.0},{"e":74,"lars":32.8,"tvlars":34.9},{"e":75,"lars":32.8,"tvlars":33.5},{"e":76,"lars":32.8,"tvlars":33.5},{"e":77,"lars":33.3,"tvlars":33.4},{"e":78,"lars":33.4,"tvlars":34.8},{"e":79,"lars":33.3,"tvlars":34.4},{"e":80,"lars":33.4,"tvlars":35.2},{"e":81,"lars":33.8,"tvlars":34.0},{"e":82,"lars":34.0,"tvlars":34.3},{"e":83,"lars":34.0,"tvlars":34.0},{"e":84,"lars":33.8,"tvlars":34.4},{"e":85,"lars":34.0,"tvlars":33.1},{"e":86,"lars":33.6,"tvlars":33.5},{"e":87,"lars":33.7,"tvlars":34.3},{"e":88,"lars":33.9,"tvlars":35.4},{"e":89,"lars":33.8,"tvlars":33.7},{"e":90,"lars":34.3,"tvlars":34.4},{"e":91,"lars":34.1,"tvlars":34.9},{"e":92,"lars":34.2,"tvlars":34.8},{"e":93,"lars":34.1,"tvlars":35.2},{"e":94,"lars":34.0,"tvlars":34.6},{"e":95,"lars":34.1,"tvlars":34.8},{"e":96,"lars":34.1,"tvlars":36.23},{"e":97,"lars":34.1,"tvlars":36.0},{"e":98,"lars":34.1,"tvlars":35.3},{"e":99,"lars":34.1,"tvlars":35.9}],
"p12":[{"e":24,"lars":29.5,"tvlars":29.5},{"e":25,"lars":30.0,"tvlars":30.4},{"e":26,"lars":31.9,"tvlars":29.6},{"e":27,"lars":30.8,"tvlars":31.6},{"e":28,"lars":32.7,"tvlars":30.6},{"e":29,"lars":31.9,"tvlars":29.5},{"e":30,"lars":31.0,"tvlars":29.4},{"e":31,"lars":30.2,"tvlars":29.4},{"e":32,"lars":31.4,"tvlars":29.5},{"e":33,"lars":30.5,"tvlars":29.5},{"e":34,"lars":29.8,"tvlars":29.6},{"e":35,"lars":29.8,"tvlars":31.3},{"e":36,"lars":31.5,"tvlars":29.8},{"e":37,"lars":30.2,"tvlars":30.5},{"e":38,"lars":32.2,"tvlars":29.6},{"e":39,"lars":31.5,"tvlars":30.2},{"e":40,"lars":30.4,"tvlars":31.8},{"e":41,"lars":30.1,"tvlars":31.0},{"e":42,"lars":29.7,"tvlars":31.9},{"e":43,"lars":31.8,"tvlars":32.3},{"e":44,"lars":32.2,"tvlars":31.4},{"e":45,"lars":31.1,"tvlars":32.0},{"e":46,"lars":31.5,"tvlars":31.1},{"e":47,"lars":31.3,"tvlars":31.8},{"e":48,"lars":31.6,"tvlars":32.3},{"e":49,"lars":31.9,"tvlars":31.6},{"e":50,"lars":32.1,"tvlars":32.2},{"e":51,"lars":32.7,"tvlars":31.5},{"e":52,"lars":31.7,"tvlars":33.0},{"e":53,"lars":31.5,"tvlars":31.8},{"e":54,"lars":31.6,"tvlars":33.6},{"e":55,"lars":32.2,"tvlars":32.4},{"e":56,"lars":32.2,"tvlars":32.6},{"e":57,"lars":31.8,"tvlars":34.2},{"e":58,"lars":31.9,"tvlars":31.1},{"e":59,"lars":31.5,"tvlars":31.8},{"e":60,"lars":32.5,"tvlars":33.3},{"e":61,"lars":32.9,"tvlars":33.5},{"e":62,"lars":32.3,"tvlars":33.5},{"e":63,"lars":33.4,"tvlars":33.8},{"e":64,"lars":33.3,"tvlars":33.8},{"e":65,"lars":32.9,"tvlars":33.0},{"e":66,"lars":33.0,"tvlars":34.5},{"e":67,"lars":32.8,"tvlars":35.7},{"e":68,"lars":32.8,"tvlars":33.2},{"e":69,"lars":32.7,"tvlars":34.4},{"e":70,"lars":33.7,"tvlars":33.3},{"e":71,"lars":34.0,"tvlars":36.7},{"e":72,"lars":34.6,"tvlars":35.6},{"e":73,"lars":34.2,"tvlars":35.0},{"e":74,"lars":34.0,"tvlars":34.5},{"e":75,"lars":34.5,"tvlars":35.6},{"e":76,"lars":34.5,"tvlars":36.5},{"e":77,"lars":34.6,"tvlars":35.9},{"e":78,"lars":34.5,"tvlars":37.0},{"e":79,"lars":35.0,"tvlars":35.5},{"e":80,"lars":34.6,"tvlars":35.6},{"e":81,"lars":34.8,"tvlars":33.6},{"e":82,"lars":35.2,"tvlars":35.9},{"e":83,"lars":34.9,"tvlars":36.2},{"e":84,"lars":35.3,"tvlars":35.3},{"e":85,"lars":35.0,"tvlars":37.1},{"e":86,"lars":35.3,"tvlars":35.8},{"e":87,"lars":35.5,"tvlars":37.6},{"e":88,"lars":35.4,"tvlars":35.7},{"e":89,"lars":35.5,"tvlars":33.8},{"e":90,"lars":35.6,"tvlars":36.6},{"e":91,"lars":35.2,"tvlars":37.3},{"e":92,"lars":35.3,"tvlars":38.4},{"e":93,"lars":35.3,"tvlars":38.2},{"e":94,"lars":35.4,"tvlars":38.4},{"e":95,"lars":35.3,"tvlars":38.9},{"e":96,"lars":35.5,"tvlars":38.0},{"e":97,"lars":35.6,"tvlars":39.4},{"e":98,"lars":35.6,"tvlars":37.9},{"e":99,"lars":35.5,"tvlars":38.8}]
},
"spacing":12.5,
"resolve":{"scale":{"x":"independent","y":"independent","color":"independent"},"legend":{"color":"independent"}},
"vconcat":[
{"spacing":16,"title":{"text":"(a) Xavier Normal"},"resolve":{"scale":{"x":"independent","y":"independent","color":"independent"},"legend":{"color":"independent"}},"vconcat":[
{"spacing":20.5,"resolve":{"scale":{"x":"independent","y":"independent","color":"independent"},"legend":{"color":"independent"}},"hconcat":[
{"data":{"name":"p1"},"width":247,"height":179,"transform":[{"fold":["lars","tvlars"],"as":["optimizer","test_acc"]}],"mark":{"type":"line","clip":true,"strokeWidth":1.3},"encoding":{"x":{"field":"e","type":"quantitative","title":"epoch","scale":{"domain":[-4.95,103.95],"nice":false,"zero":false},"axis":{"values":[0,20,40,60,80,100]}},"y":{"field":"test_acc","type":"quantitative","title":"test_acc","scale":{"domain":[70,81.95],"nice":false,"zero":false},"axis":{"values":[70,72,74,76,78,80]}},"color":{"field":"optimizer","type":"nominal","scale":{"domain":["lars","tvlars"],"range":["#a1c0fa","#f5a486"]},"legend":{"orient":"none","legendX":53,"legendY":22,"direction":"vertical","title":"optimizer","symbolType":"M-1,0H2","symbolSize":121}}}},
{"data":{"name":"p2"},"width":247,"height":179,"transform":[{"fold":["lars","tvlars"],"as":["optimizer","test_acc"]}],"mark":{"type":"line","clip":true,"strokeWidth":1.3},"encoding":{"x":{"field":"e","type":"quantitative","title":"epoch","scale":{"domain":[-4.95,103.95],"nice":false,"zero":false},"axis":{"values":[0,20,40,60,80,100]}},"y":{"field":"test_acc","type":"quantitative","title":"test_acc","scale":{"domain":[70,82.0],"nice":false,"zero":false},"axis":{"values":[70,72,74,76,78,80]}},"color":{"field":"optimizer","type":"nominal","scale":{"domain":["lars","tvlars"],"range":["#a1c0fa","#f5a486"]},"legend":{"orient":"none","legendX":53,"legendY":22,"direction":"vertical","title":"optimizer","symbolType":"M-1,0H2","symbolSize":121}}}}
]},
{"spacing":20.5,"resolve":{"scale":{"x":"independent","y":"independent","color":"independent"},"legend":{"color":"independent"}},"hconcat":[
{"data":{"name":"p3"},"width":247,"height":179,"transform":[{"fold":["lars","tvlars"],"as":["optimizer","test_acc"]}],"mark":{"type":"line","clip":true,"strokeWidth":1.3},"encoding":{"x":{"field":"e","type":"quantitative","title":"epoch","scale":{"domain":[-4.95,103.95],"nice":false,"zero":false},"axis":{"values":[0,20,40,60,80,100]}},"y":{"field":"test_acc","type":"quantitative","title":"test_acc","scale":{"domain":[70,80.43],"nice":false,"zero":false},"axis":{"values":[70,72,74,76,78,80]}},"color":{"field":"optimizer","type":"nominal","scale":{"domain":["lars","tvlars"],"range":["#a1c0fa","#f5a486"]},"legend":{"orient":"none","legendX":53,"legendY":22,"direction":"vertical","title":"optimizer","symbolType":"M-1,0H2","symbolSize":121}}}},
{"data":{"name":"p4"},"width":247,"height":179,"transform":[{"fold":["lars","tvlars"],"as":["optimizer","test_acc"]}],"mark":{"type":"line","clip":true,"strokeWidth":1.3},"encoding":{"x":{"field":"e","type":"quantitative","title":"epoch","scale":{"domain":[-4.95,103.95],"nice":false,"zero":false},"axis":{"values":[0,20,40,60,80,100]}},"y":{"field":"test_acc","type":"quantitative","title":"test_acc","scale":{"domain":[70,80.45],"nice":false,"zero":false},"axis":{"values":[70,72,74,76,78,80]}},"color":{"field":"optimizer","type":"nominal","scale":{"domain":["lars","tvlars"],"range":["#a1c0fa","#f5a486"]},"legend":{"orient":"none","legendX":53,"legendY":22,"direction":"vertical","title":"optimizer","symbolType":"M-1,0H2","symbolSize":121}}}}
]}
]},
{"spacing":16,"title":{"text":"(b) Kaiming Normal"},"resolve":{"scale":{"x":"independent","y":"independent","color":"independent"},"legend":{"color":"independent"}},"vconcat":[
{"spacing":20.5,"resolve":{"scale":{"x":"independent","y":"independent","color":"independent"},"legend":{"color":"independent"}},"hconcat":[
{"data":{"name":"p5"},"width":247,"height":179,"transform":[{"fold":["lars","tvlars"],"as":["optimizer","test_acc"]}],"mark":{"type":"line","clip":true,"strokeWidth":1.3},"encoding":{"x":{"field":"e","type":"quantitative","title":"epoch","scale":{"domain":[-4.95,103.95],"nice":false,"zero":false},"axis":{"values":[0,20,40,60,80,100]}},"y":{"field":"test_acc","type":"quantitative","title":"test_acc","scale":{"domain":[70,81.58],"nice":false,"zero":false},"axis":{"values":[70,72,74,76,78,80]}},"color":{"field":"optimizer","type":"nominal","scale":{"domain":["lars","tvlars"],"range":["#a1c0fa","#f5a486"]},"legend":{"orient":"none","legendX":53,"legendY":22,"direction":"vertical","title":"optimizer","symbolType":"M-1,0H2","symbolSize":121}}}},
{"data":{"name":"p6"},"width":247,"height":179,"transform":[{"fold":["lars","tvlars"],"as":["optimizer","test_acc"]}],"mark":{"type":"line","clip":true,"strokeWidth":1.3},"encoding":{"x":{"field":"e","type":"quantitative","title":"epoch","scale":{"domain":[-4.95,103.95],"nice":false,"zero":false},"axis":{"values":[0,20,40,60,80,100]}},"y":{"field":"test_acc","type":"quantitative","title":"test_acc","scale":{"domain":[70,81.6],"nice":false,"zero":false},"axis":{"values":[70,72,74,76,78,80]}},"color":{"field":"optimizer","type":"nominal","scale":{"domain":["lars","tvlars"],"range":["#a1c0fa","#f5a486"]},"legend":{"orient":"none","legendX":53,"legendY":22,"direction":"vertical","title":"optimizer","symbolType":"M-1,0H2","symbolSize":121}}}}
]},
{"spacing":20.5,"resolve":{"scale":{"x":"independent","y":"independent","color":"independent"},"legend":{"color":"independent"}},"hconcat":[
{"data":{"name":"p7"},"width":247,"height":179,"transform":[{"fold":["lars","tvlars"],"as":["optimizer","test_acc"]}],"mark":{"type":"line","clip":true,"strokeWidth":1.3},"encoding":{"x":{"field":"e","type":"quantitative","title":"epoch","scale":{"domain":[-4.95,103.95],"nice":false,"zero":false},"axis":{"values":[0,20,40,60,80,100]}},"y":{"field":"test_acc","type":"quantitative","title":"test_acc","scale":{"domain":[30,36.32],"nice":false,"zero":false},"axis":{"values":[30,31,32,33,34,35,36]}},"color":{"field":"optimizer","type":"nominal","scale":{"domain":["lars","tvlars"],"range":["#a1c0fa","#f5a486"]},"legend":{"orient":"none","legendX":53,"legendY":22,"direction":"vertical","title":"optimizer","symbolType":"M-1,0H2","symbolSize":121}}}},
{"data":{"name":"p8"},"width":247,"height":179,"transform":[{"fold":["lars","tvlars"],"as":["optimizer","test_acc"]}],"mark":{"type":"line","clip":true,"strokeWidth":1.3},"encoding":{"x":{"field":"e","type":"quantitative","title":"epoch","scale":{"domain":[-4.95,103.95],"nice":false,"zero":false},"axis":{"values":[0,20,40,60,80,100]}},"y":{"field":"test_acc","type":"quantitative","title":"test_acc","scale":{"domain":[30,38.77],"nice":false,"zero":false},"axis":{"values":[30,32,34,36,38]}},"color":{"field":"optimizer","type":"nominal","scale":{"domain":["lars","tvlars"],"range":["#a1c0fa","#f5a486"]},"legend":{"orient":"none","legendX":53,"legendY":22,"direction":"vertical","title":"optimizer","symbolType":"M-1,0H2","symbolSize":121}}}}
]}
]},
{"spacing":16,"title":{"text":"(c) Kaiming Uniform"},"resolve":{"scale":{"x":"independent","y":"independent","color":"independent"},"legend":{"color":"independent"}},"vconcat":[
{"spacing":20.5,"resolve":{"scale":{"x":"independent","y":"independent","color":"independent"},"legend":{"color":"independent"}},"hconcat":[
{"data":{"name":"p9"},"width":247,"height":179,"transform":[{"fold":["lars","tvlars"],"as":["optimizer","test_acc"]}],"mark":{"type":"line","clip":true,"strokeWidth":1.3},"encoding":{"x":{"field":"e","type":"quantitative","title":"epoch","scale":{"domain":[-4.95,103.95],"nice":false,"zero":false},"axis":{"values":[0,20,40,60,80,100]}},"y":{"field":"test_acc","type":"quantitative","title":"test_acc","scale":{"domain":[30,38.52],"nice":false,"zero":false},"axis":{"values":[30,32,34,36,38]}},"color":{"field":"optimizer","type":"nominal","scale":{"domain":["lars","tvlars"],"range":["#a1c0fa","#f5a486"]},"legend":{"orient":"none","legendX":53,"legendY":22,"direction":"vertical","title":"optimizer","symbolType":"M-1,0H2","symbolSize":121}}}},
{"data":{"name":"p10"},"width":247,"height":179,"transform":[{"fold":["lars","tvlars"],"as":["optimizer","test_acc"]}],"mark":{"type":"line","clip":true,"strokeWidth":1.3},"encoding":{"x":{"field":"e","type":"quantitative","title":"epoch","scale":{"domain":[-4.95,103.95],"nice":false,"zero":false},"axis":{"values":[0,20,40,60,80,100]}},"y":{"field":"test_acc","type":"quantitative","title":"test_acc","scale":{"domain":[30,38.8],"nice":false,"zero":false},"axis":{"values":[30,32,34,36,38]}},"color":{"field":"optimizer","type":"nominal","scale":{"domain":["lars","tvlars"],"range":["#a1c0fa","#f5a486"]},"legend":{"orient":"none","legendX":53,"legendY":22,"direction":"vertical","title":"optimizer","symbolType":"M-1,0H2","symbolSize":121}}}}
]},
{"spacing":20.5,"resolve":{"scale":{"x":"independent","y":"independent","color":"independent"},"legend":{"color":"independent"}},"hconcat":[
{"data":{"name":"p11"},"width":247,"height":179,"transform":[{"fold":["lars","tvlars"],"as":["optimizer","test_acc"]}],"mark":{"type":"line","clip":true,"strokeWidth":1.3},"encoding":{"x":{"field":"e","type":"quantitative","title":"epoch","scale":{"domain":[-4.95,103.95],"nice":false,"zero":false},"axis":{"values":[0,20,40,60,80,100]}},"y":{"field":"test_acc","type":"quantitative","title":"test_acc","scale":{"domain":[30,36.23],"nice":false,"zero":false},"axis":{"values":[30,31,32,33,34,35,36]}},"color":{"field":"optimizer","type":"nominal","scale":{"domain":["lars","tvlars"],"range":["#a1c0fa","#f5a486"]},"legend":{"orient":"none","legendX":53,"legendY":22,"direction":"vertical","title":"optimizer","symbolType":"M-1,0H2","symbolSize":121}}}},
{"data":{"name":"p12"},"width":247,"height":179,"transform":[{"fold":["lars","tvlars"],"as":["optimizer","test_acc"]}],"mark":{"type":"line","clip":true,"strokeWidth":1.3},"encoding":{"x":{"field":"e","type":"quantitative","title":"epoch","scale":{"domain":[-4.95,103.95],"nice":false,"zero":false},"axis":{"values":[0,20,40,60,80,100]}},"y":{"field":"test_acc","type":"quantitative","title":"test_acc","scale":{"domain":[30,39.4],"nice":false,"zero":false},"axis":{"values":[30,32,34,36,38]}},"color":{"field":"optimizer","type":"nominal","scale":{"domain":["lars","tvlars"],"range":["#a1c0fa","#f5a486"]},"legend":{"orient":"none","legendX":53,"legendY":22,"direction":"vertical","title":"optimizer","symbolType":"M-1,0H2","symbolSize":121}}}}
]}
]}
],
"config":{
"font":"DejaVu Sans",
"view":{"stroke":"#3a3a3a","strokeWidth":1},
"axis":{"domain":false,"grid":false,"ticks":true,"tickColor":"#333333","tickSize":3.5,"tickWidth":1,"labelFont":"DejaVu Sans","labelFontSize":13,"labelColor":"#222222","labelPadding":1.5,"labelOverlap":false,"labelFlush":false,"titleFont":"DejaVu Sans","titleFontSize":12,"titleFontWeight":"normal","titleColor":"#222222"},
"axisX":{"titlePadding":1},
"axisY":{"minExtent":22,"maxExtent":22,"titlePadding":2},
"legend":{"titleFont":"DejaVu Sans","titleFontSize":9,"titleFontWeight":"normal","titleColor":"#333333","labelFont":"DejaVu Sans","labelFontSize":6.5,"labelColor":"#333333","symbolStrokeWidth":1.3,"labelOffset":10,"padding":3,"rowPadding":0.3,"titlePadding":1,"strokeColor":"#cccccc","fillColor":"rgba(255,255,255,0.85)","cornerRadius":2},
"title":{"font":"Liberation Serif","fontSize":24.5,"fontWeight":"normal","color":"#000000","orient":"bottom","anchor":"middle","offset":22}
}
}
